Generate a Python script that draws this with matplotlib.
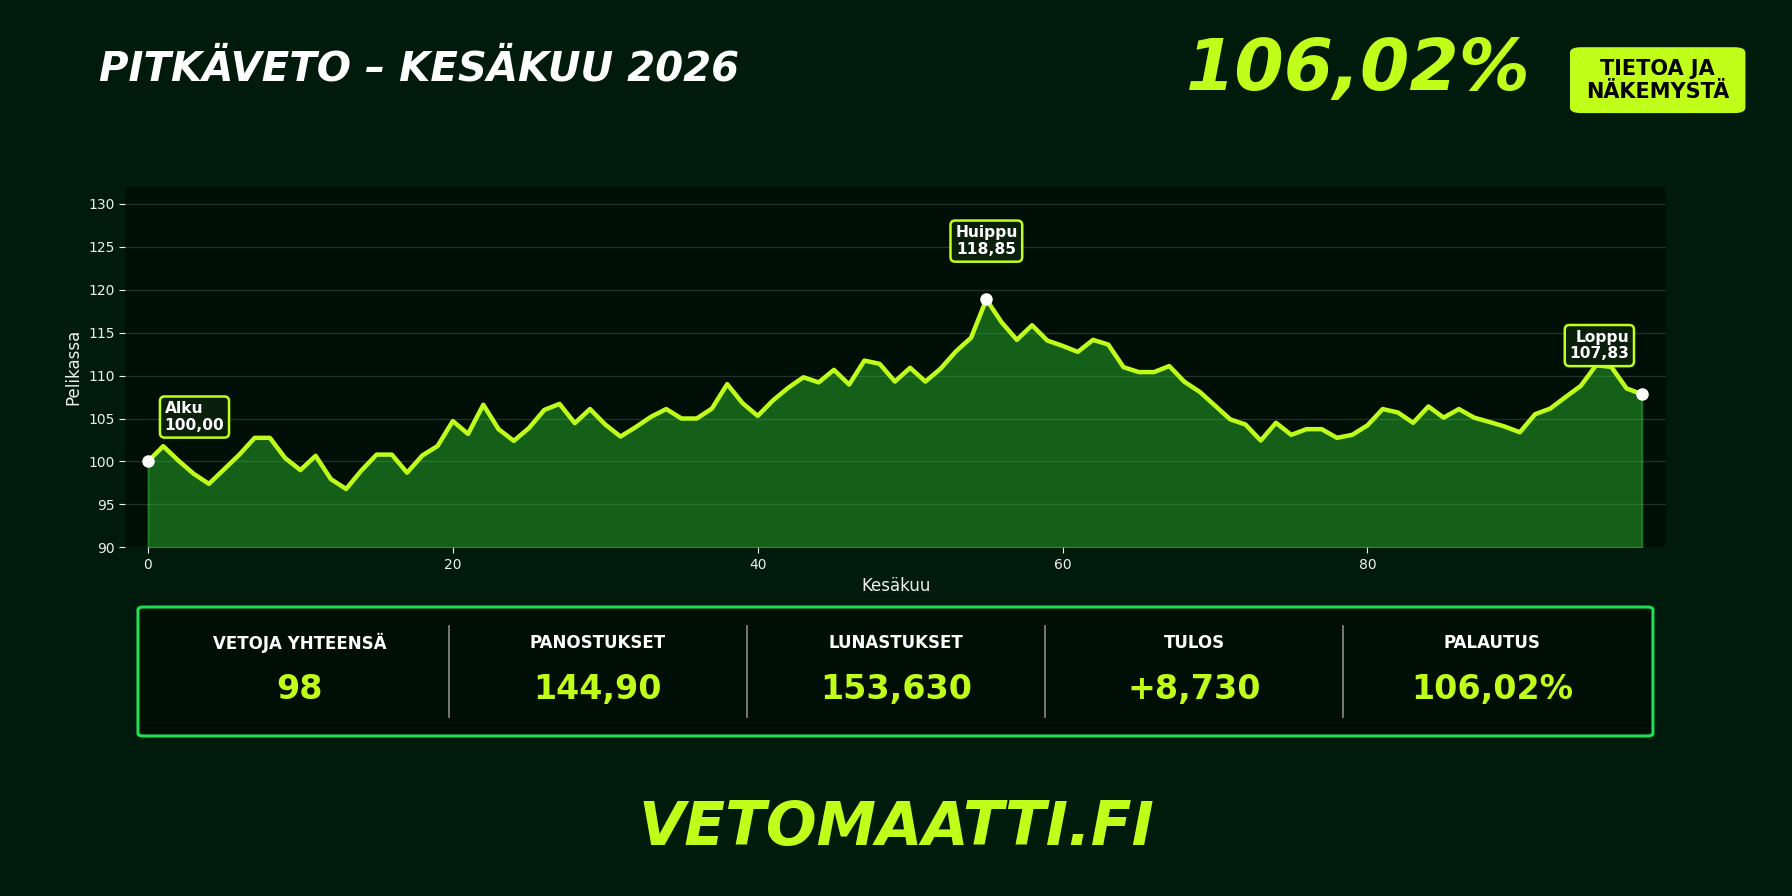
import matplotlib.pyplot as plt
from matplotlib.patches import FancyBboxPatch
from matplotlib.lines import Line2D

# Pelikassa per veto (0 = alku, 98 = viimeinen veto)
kassa = [100.00, 101.78, 100.10, 98.57, 97.40, 99.10, 100.80, 102.75, 102.75, 100.40,
         99.00, 100.66, 97.95, 96.80, 98.95, 100.80, 100.80, 98.70, 100.70, 101.80,
         104.70, 103.20, 106.60, 103.76, 102.40, 103.90, 106.00, 106.70, 104.46, 106.10,
         104.30, 102.90, 104.00, 105.20, 106.10, 105.00, 105.00, 106.16, 109.00, 106.80,
         105.30, 107.10, 108.57, 109.80, 109.20, 110.66, 108.95, 111.74, 111.36, 109.30,
         110.90, 109.30, 110.80, 112.80, 114.40, 118.85, 116.20, 114.15, 115.85, 114.07,
         113.45, 112.75, 114.15, 113.60, 110.97, 110.40, 110.40, 111.10, 109.26, 108.10,
         106.50, 104.90, 104.30, 102.44, 104.50, 103.10, 103.76, 103.76, 102.75, 103.10,
         104.20, 106.10, 105.70, 104.50, 106.40, 105.10, 106.10, 105.10, 104.60, 104.07,
         103.40, 105.50, 106.16, 107.50, 108.80, 111.20, 111.00, 108.50, 107.83]
vedot = list(range(len(kassa)))

otsikko = "PITKÄVETO – KESÄKUU 2026"
tuotto = "106,02%"
merkki = "TIETOA JA\nNÄKEMYSTÄ"
alaotsikko = "VETOMAATTI.FI"

tilasto_nimet = ["VETOJA YHTEENSÄ", "PANOSTUKSET", "LUNASTUKSET", "TULOS", "PALAUTUS"]
tilasto_arvot = ["98", "144,90", "153,630", "+8,730", "106,02%"]

huiput = [(0, "Alku\n100,00", "left", (12, 32)),
          (55, "Huippu\n118,85", "center", (0, 42)),
          (98, "Loppu\n107,83", "right", (-9, 35))]

BG = "#001a0b"
AXBG = "#000f06"
LIME = "#c0ff1a"

fig = plt.figure(figsize=(17.92, 8.96), dpi=100, facecolor=BG)

ax = fig.add_axes([0.0698, 0.389, 0.860, 0.402])
ax.set_facecolor(AXBG)
ax.fill_between(vedot, kassa, 90, color="#32cd32", alpha=0.43, lw=1.5)
ax.plot(vedot, kassa, color=LIME, lw=3.2, zorder=3)
ax.set_xlim(-1.5, 99.6)
ax.set_ylim(90, 131.9)
ax.set_yticks(range(90, 131, 5))
ax.set_xticks(range(0, 81, 20))
ax.grid(axis="y", color="white", alpha=0.15, lw=0.9)
ax.set_axisbelow(True)
for s in ax.spines.values():
    s.set_visible(False)
ax.tick_params(colors="#f0f0f0", labelsize=10, length=4)
ax.set_xlabel("Kesäkuu", color="#f0f0f0", fontsize=12)
ax.set_ylabel("Pelikassa", color="#f0f0f0", fontsize=12)

for i, txt, ha, off in huiput:
    ax.plot(vedot[i], kassa[i], "o", color="white", ms=8, zorder=5, clip_on=False)
    ax.annotate(txt, (vedot[i], kassa[i]), xytext=off, textcoords="offset points",
                ha=ha, va="center", multialignment=ha, color="white", fontsize=11.2,
                fontweight="bold", zorder=6, linespacing=1.15,
                bbox=dict(boxstyle="round,pad=0.3", fc="#0a1f0c", ec=LIME, lw=1.8))

# otsikkorivi
fig.text(0.0552, 0.9096, otsikko, color="white", fontsize=29, fontweight="bold",
         fontstyle="italic", ha="left", va="baseline")
fig.text(0.8544, 0.9, tuotto, color=LIME, fontsize=51, fontweight="bold",
         fontstyle="italic", ha="right", va="baseline")
fig.patches.append(FancyBboxPatch((0.8761, 0.8738), 0.0979, 0.0735,
                                  boxstyle="round,pad=0,rounding_size=0.006",
                                  transform=fig.transFigure, fc=LIME, ec="none"))
fig.text(0.9251, 0.9104, merkki, color="black", fontsize=15, fontweight="bold",
         ha="center", va="center", linespacing=1.22)

# tilastolaatikko
fig.patches.append(FancyBboxPatch((0.077, 0.1786), 0.8454, 0.1439,
                                  boxstyle="round,pad=0,rounding_size=0.003",
                                  transform=fig.transFigure, fc=AXBG, ec="#22dd55", lw=2.2))
leveys = 0.1663
for k, (nimi, arvo) in enumerate(zip(tilasto_nimet, tilasto_arvot)):
    cx = 0.5 + (k - 2) * leveys
    fig.text(cx, 0.2824, nimi, color="white", fontsize=12, fontweight="bold",
             ha="center", va="center")
    fig.text(cx, 0.231, arvo, color=LIME, fontsize=24, fontweight="bold",
             ha="center", va="center")
    if k < 4:
        dx = cx + leveys / 2
        fig.add_artist(Line2D([dx, dx], [0.1998, 0.3013], color="#8a8a8a", lw=1.2,
                              transform=fig.transFigure))

fig.text(0.5, 0.0569, alaotsikko, color=LIME, fontsize=43, fontweight="bold",
         fontstyle="italic", ha="center", va="baseline")

fig.savefig("out.png", dpi=100, facecolor=BG)
